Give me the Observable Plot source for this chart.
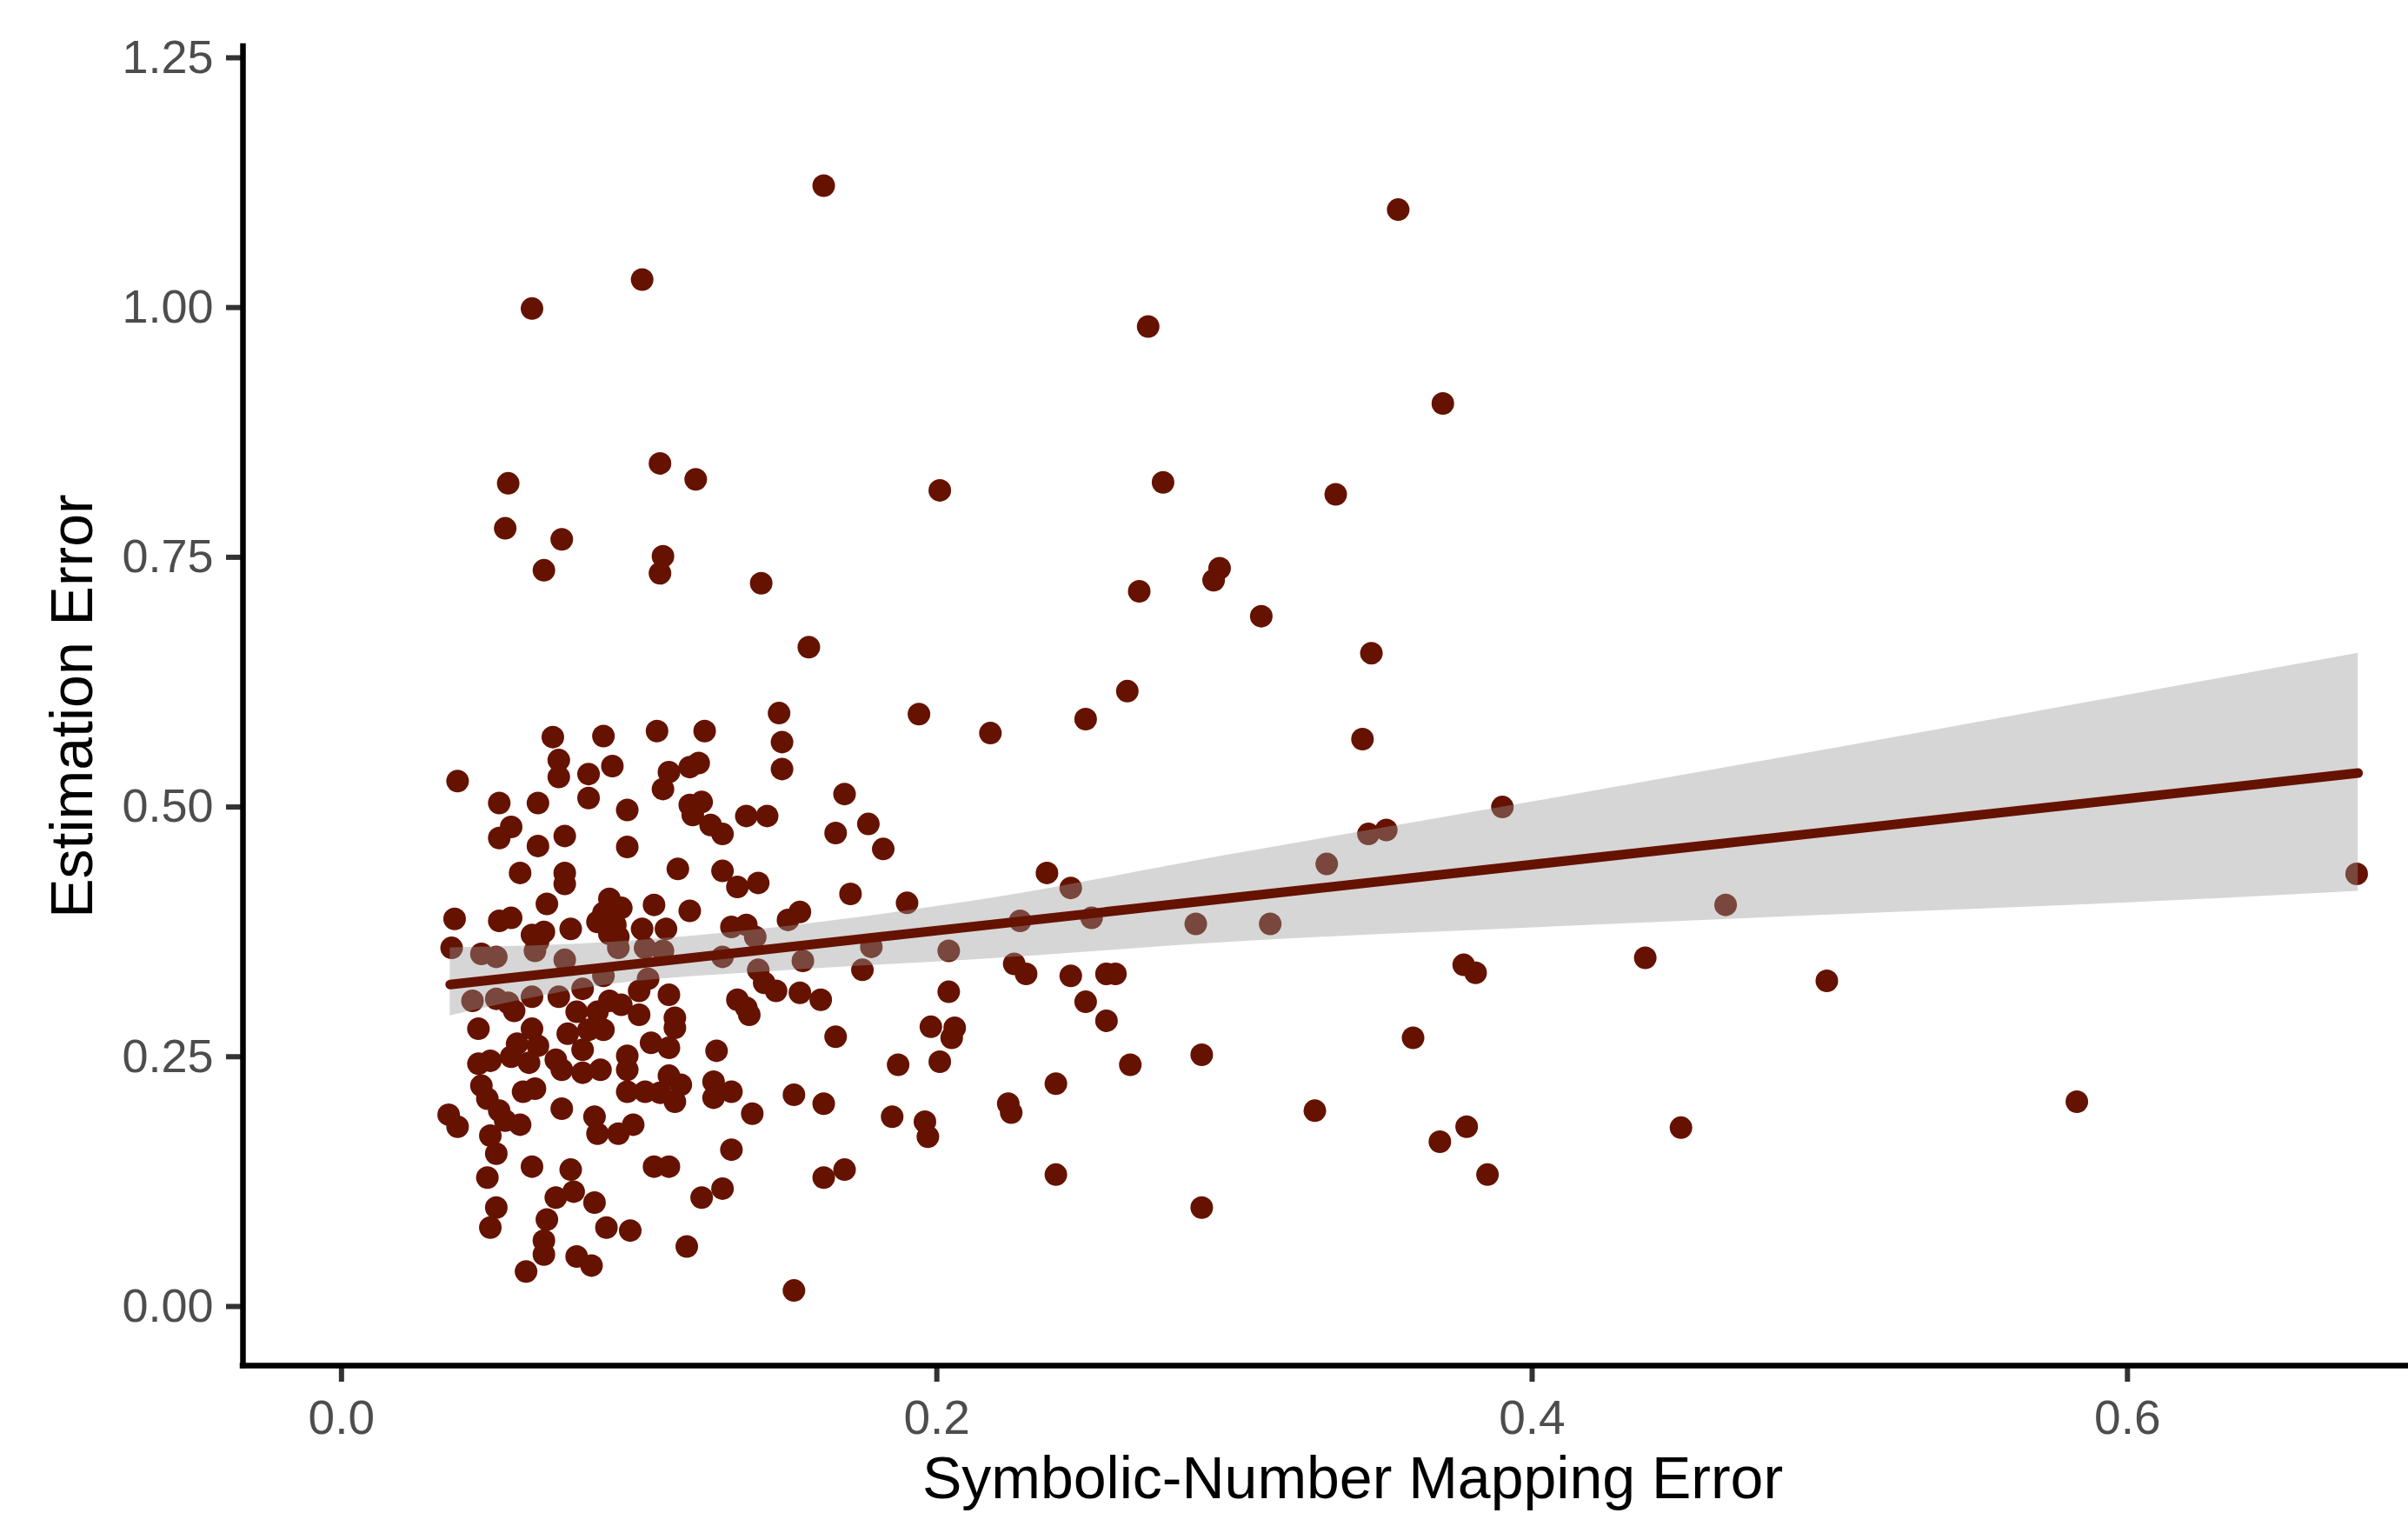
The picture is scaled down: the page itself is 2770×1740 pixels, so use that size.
<!DOCTYPE html>
<html>
<head>
<meta charset="utf-8">
<script src="https://cdn.jsdelivr.net/npm/d3@7"></script>
<script src="https://cdn.jsdelivr.net/npm/@observablehq/plot@0.6"></script>
<style>
html, body { margin: 0; padding: 0; background: #ffffff; }
#chart svg { display: block; }
g[aria-label="x-axis tick"], g[aria-label="y-axis tick"] { stroke: #333333; }
g[aria-label="x-axis tick label"], g[aria-label="y-axis tick label"] { fill: #4d4d4d; }
</style>
</head>
<body>
<div id="chart"></div>
<script>
// ---- data ----
const pointX = [
  0.162,0.355,0.101,0.064,0.271,0.370,0.107,0.119,0.056,0.201,0.276,0.334,0.055,0.074,0.108,0.107,0.068,0.141,0.295,0.293,0.268,0.309,0.157,0.346,0.264,
  0.250,0.218,0.343,0.390,0.345,0.351,0.331,0.237,0.245,0.465,0.252,0.228,0.287,0.312,0.677,0.438,0.377,0.381,0.499,0.226,0.230,0.245,0.257,0.260,0.250,0.257,0.360,0.289,0.265,0.240,0.583,0.224,0.225,0.327,0.378,0.450,0.369,0.240,0.385,0.289,
  0.147,0.194,0.148,0.148,0.169,0.166,0.177,0.182,0.171,0.190,0.154,0.150,0.178,0.155,0.204,0.175,0.154,0.161,0.204,
  0.166,0.198,0.206,0.205,0.187,0.201,0.152,0.162,0.185,0.196,0.197,0.162,0.169,0.152,
  0.088,0.106,0.122,0.091,0.110,0.108,0.117,0.120,0.096,0.117,0.121,0.118,0.124,0.128,0.136,0.143,0.096,0.113,0.128,0.133,0.140,0.105,0.117,0.090,0.094,0.088,0.086,0.092,0.090,0.093,0.101,0.109,0.131,0.136,0.139,0.093,0.102,0.108,0.128,0.140,0.142,0.146,0.103,0.100,0.110,0.090,0.133,0.088,
  0.071,0.073,0.073,0.039,0.083,0.083,0.053,0.066,0.057,0.053,0.066,0.075,0.060,0.075,0.075,0.069,0.038,0.053,0.057,0.064,0.068,0.066,0.077,0.037,0.047,0.052,0.065,0.075,
  0.044,0.052,0.056,0.058,0.064,0.073,0.081,
  0.079,0.086,0.046,0.064,0.076,0.083,0.088,0.059,0.066,0.081,0.057,0.063,0.046,0.050,0.072,0.074,0.081,0.087,0.047,0.061,0.065,0.049,0.053,0.055,0.060,0.036,0.039,0.074,0.085,0.086,0.050,0.052,0.064,0.049,0.077,0.078,0.072,0.085,0.052,0.050,0.069,0.089,0.068,0.068,0.079,0.084,0.062,
  0.094,0.100,0.112,0.112,0.104,0.110,0.126,0.136,0.137,0.096,0.096,0.110,0.114,0.112,0.096,0.102,0.107,0.125,0.125,0.131,0.138,0.093,0.098,0.131,0.105,0.110,0.121,0.128,0.097,0.116
];
const pointY = [
  1.122,1.098,1.028,0.999,0.981,0.904,0.844,0.828,0.824,0.817,0.825,0.813,0.779,0.768,0.751,0.734,0.737,0.724,0.739,0.727,0.716,0.691,0.660,0.654,0.616,
  0.588,0.574,0.568,0.500,0.473,0.477,0.443,0.434,0.419,0.402,0.389,0.386,0.383,0.383,0.433,0.349,0.342,0.334,0.326,0.343,0.333,0.331,0.333,0.333,0.305,0.286,0.269,0.252,0.242,0.223,0.205,0.203,0.194,0.196,0.180,0.179,0.165,0.132,0.132,0.099,
  0.594,0.593,0.565,0.538,0.513,0.474,0.483,0.458,0.413,0.404,0.395,0.387,0.360,0.346,0.356,0.337,0.314,0.307,0.315,
  0.270,0.280,0.279,0.269,0.242,0.245,0.212,0.203,0.190,0.185,0.170,0.129,0.137,0.016,
  0.571,0.576,0.576,0.541,0.535,0.518,0.540,0.544,0.497,0.502,0.505,0.492,0.482,0.473,0.491,0.491,0.460,0.438,0.436,0.420,0.424,0.402,0.396,0.408,0.399,0.394,0.385,0.382,0.373,0.370,0.378,0.378,0.380,0.382,0.370,0.359,0.359,0.356,0.350,0.337,0.324,0.316,0.328,0.316,0.312,0.306,0.307,0.331,
  0.570,0.547,0.530,0.526,0.533,0.509,0.504,0.504,0.480,0.469,0.461,0.471,0.434,0.434,0.423,0.403,0.388,0.386,0.389,0.372,0.375,0.365,0.378,0.359,0.353,0.350,0.356,0.347,
  0.306,0.308,0.304,0.296,0.310,0.310,0.318,
  0.295,0.295,0.278,0.278,0.273,0.277,0.277,0.263,0.261,0.257,0.250,0.244,0.243,0.246,0.247,0.237,0.234,0.237,0.221,0.215,0.218,0.208,0.196,0.186,0.182,0.192,0.180,0.198,0.190,0.173,0.171,0.153,0.140,0.129,0.137,0.115,0.109,0.104,0.099,0.079,0.087,0.079,0.066,0.052,0.050,0.041,0.035,
  0.302,0.292,0.289,0.279,0.264,0.259,0.256,0.299,0.292,0.251,0.237,0.231,0.222,0.205,0.215,0.215,0.214,0.225,0.209,0.215,0.193,0.173,0.182,0.157,0.140,0.140,0.109,0.118,0.076,0.060
];

// fitted line (read at its two ends) and its confidence band
const fitX = [0.0365, 0.6775];
const fitY = [0.3223, 0.534];
const bandX    = [0.0365, 0.087, 0.148, 0.2126, 0.300, 0.400, 0.500, 0.600, 0.6775];
const bandLow  = [0.291,  0.321, 0.336, 0.347,  0.365, 0.379, 0.392, 0.404, 0.4156];
const bandHigh = [0.359,  0.364, 0.380, 0.406,  0.453, 0.505, 0.558, 0.612, 0.654];

// axes
const xDomain = [-0.0331, 0.7125];
const yDomain = [-0.0592, 1.2613];
const xTicks = [0.0, 0.2, 0.4, 0.6];
const yTicks = [0.00, 0.25, 0.50, 0.75, 1.00, 1.25];
const xTitle = ["Symbolic-Number Mapping Error"];
const yTitle = ["Estimation Error"];

const pointColor = "#651200";

// ---- tables ----
const points = pointX.map((x, i) => ({x, y: pointY[i]}));
const fit = fitX.map((x, i) => ({x, y: fitY[i]}));
const band = bandX.map((x, i) => ({x, lo: bandLow[i], hi: bandHigh[i]}));

const font = "'Liberation Sans', Arial, Helvetica, sans-serif";

const chart = Plot.plot({
  width: 2770,
  height: 1740,
  marginLeft: 279,
  marginRight: -62,
  marginTop: 53,
  marginBottom: 170,
  style: {fontFamily: font, background: "#ffffff", color: "#000000"},
  x: {domain: xDomain},
  y: {domain: yDomain},
  marks: [
    Plot.dot(points, {x: "x", y: "y", r: 13, fill: pointColor, stroke: "none"}),
    Plot.areaY(band, {x: "x", y1: "lo", y2: "hi", fill: "#999999", fillOpacity: 0.4, curve: "monotone-x"}),
    Plot.line(fit, {x: "x", y: "y", stroke: pointColor, strokeWidth: 11}),
    Plot.axisX({ticks: xTicks, tickFormat: d3.format(".1f"), tickSize: 19, tickPadding: 20, fontSize: 55,
                stroke: "#333333", fill: "#4d4d4d", strokeWidth: 6, label: null}),
    Plot.axisY({ticks: yTicks, tickFormat: d3.format(".2f"), tickSize: 19, tickPadding: 15, fontSize: 54,
                stroke: "#333333", fill: "#4d4d4d", strokeWidth: 6, label: null}),
    Plot.ruleX(xDomain.slice(0, 1), {stroke: "#000000", strokeWidth: 6.5, strokeLinecap: "square"}),
    Plot.ruleY(yDomain.slice(0, 1), {stroke: "#000000", strokeWidth: 6.5, strokeLinecap: "square"}),
    Plot.text(xTitle, {text: d => d, frameAnchor: "bottom", lineAnchor: "top", dy: 104,
                       fontSize: 68, fill: "#000000"}),
    Plot.text(yTitle, {text: d => d, frameAnchor: "left", rotate: -90, lineAnchor: "top", dx: -222,
                       textAnchor: "middle", fontSize: 68, fill: "#000000"})
  ]
});
document.getElementById("chart").appendChild(chart);
</script>
</body>
</html>
